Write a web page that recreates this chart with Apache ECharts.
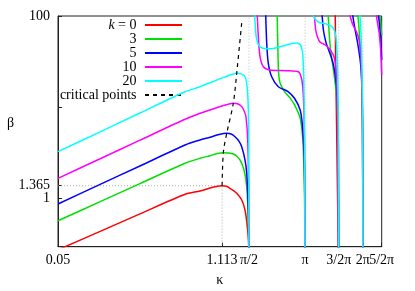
<!DOCTYPE html>
<html><head><meta charset="utf-8">
<script src="https://cdn.jsdelivr.net/npm/echarts@6/dist/echarts.min.js"></script>
<style>html,body{margin:0;padding:0;background:#fff}#c{width:415px;height:291px}</style>
</head><body><div id="c"></div>
<script>
// ---- axis ticks ----
const xTickValues = [0.05, 1.113, Math.PI / 2, Math.PI, 1.5 * Math.PI, 2 * Math.PI, 2.5 * Math.PI];
const xTickLabels = ['0.05', '1.113', 'π/2', 'π', '3/2π', '2π', '5/2π'];
const yTickValues = [1, 1.365, 10, 100];
const yLabelValues = [1, 1.365, 100];
const gridLineKappa = [Math.PI / 2, Math.PI, 1.5 * Math.PI, 2 * Math.PI];
const xRange = [0.05, 2.5 * Math.PI];
const yRange = [0.2917, 100];

// ---- series (branches of [kappa, beta]) ----
const seriesNames = ['k = 0', '3', '5', '10', '20'];
const k0 = [
  [[0.05,0.27],[0.167,0.430],[0.345,0.669],[0.676,1.098],[0.830,1.194],[0.949,1.288],[1.014,1.330],[1.113,1.365],[1.175,1.345],[1.233,1.278],[1.290,1.205],[1.344,1.126],[1.433,0.951],[1.494,0.738],[1.538,0.484],[1.566,0.291],[1.5705,0.1]],
  [[4.518,110],[4.540,32.9],[4.572,11.9],[4.610,3.37],[4.655,0.738],[4.712,0.1]]
];
const k3 = [
  [[0.05,0.563],[0.167,0.911],[0.345,1.44],[0.676,2.41],[0.830,2.73],[0.949,2.92],[1.045,3.08],[1.131,3.15],[1.215,3.12],[1.287,3.04],[1.350,2.86],[1.402,2.62],[1.476,2.03],[1.527,1.33],[1.552,0.684],[1.566,0.346],[1.5705,0.1]],
  [[2.229,120],[2.250,50.0],[2.270,25.0],[2.313,18.5],[2.460,14.5],[2.615,12.6],[2.768,10.5],[2.959,7.57],[3.058,4.34],[3.096,2.03],[3.122,0.951],[3.1416,0.1]],
  [[4.149,110],[4.178,79.6],[4.224,54.5],[4.316,36.3],[4.474,21.4],[4.600,12.9],[4.666,6.34],[4.712,0.1]],
  [[5.868,110],[5.939,95.1],[6.031,61.8],[6.133,34.5],[6.212,16.2],[6.257,5.59],[6.283,0.1]],
  [[7.655,110],[7.746,85.9],[7.854,61.8]]
];
const k5 = [
  [[0.05,0.859],[0.167,1.41],[0.345,2.25],[0.676,3.82],[0.830,4.34],[0.949,4.65],[1.070,4.98],[1.182,5.14],[1.260,5.02],[1.315,4.72],[1.380,4.25],[1.433,3.66],[1.494,2.62],[1.527,1.87],[1.552,0.951],[1.566,0.484],[1.5705,0.1]],
  [[1.933,120],[1.962,50.1],[2.001,30.2],[2.087,21.5],[2.265,16.7],[2.561,14.7],[2.768,12.4],[2.959,9.27],[3.035,6.62],[3.084,4.02],[3.122,2.21],[3.1416,0.1]],
  [[3.850,110],[3.920,70.2],[4.050,50.5],[4.214,40.2],[4.385,31.2],[4.491,24.3],[4.583,17.0],[4.655,9.27],[4.694,3.37],[4.712,0.1]],
  [[5.528,110],[5.594,95.1],[5.730,70.2],[5.903,50.5],[6.066,34.5],[6.168,24.3],[6.227,15.4],[6.264,5.59],[6.283,0.1]],
  [[7.520,110],[7.655,79.6],[7.792,48.0],[7.854,32.9]]
];
const k10 = [
  [[0.05,1.646],[0.167,2.70],[0.345,4.32],[0.676,7.33],[0.830,8.53],[0.949,9.27],[1.120,10.3],[1.287,11.0],[1.370,10.8],[1.433,10.1],[1.480,9.0],[1.513,7.82],[1.546,4.34],[1.566,1.224],[1.5695,0.346],[1.5705,0.1]],
  [[1.738,120],[1.767,59.2],[1.805,35.7],[1.881,27.7],[2.044,25.5],[2.511,25.1],[2.894,24.4],[3.020,19.8],[3.084,11.9],[3.122,3.37],[3.1416,0.1]],
  [[3.509,105],[3.573,70.2],[3.647,59.2],[3.759,51.8],[4.050,47.4],[4.301,41.2],[4.474,34.5],[4.566,23.6],[4.627,13.5],[4.666,5.59],[4.712,0.1]],
  [[5.334,110],[5.430,95.1],[5.582,79.6],[5.798,68.4],[5.974,57.3],[6.081,44.5],[6.168,26.8],[6.235,9.27],[6.272,1.58],[6.283,0.1]],
  [[7.343,110],[7.457,85.9],[7.609,66.7],[7.746,44.5],[7.854,22.5]]
];
const k20 = [
  [[0.05,3.23],[0.167,5.33],[0.345,8.59],[0.676,14.7],[0.830,16.7],[0.949,18.5],[1.150,21.3],[1.344,23.5],[1.430,23.0],[1.494,21.5],[1.527,18.2],[1.552,11.9],[1.566,4.34],[1.5705,0.1]],
  [[1.68,120],[1.716,61.8],[1.760,49.2],[1.850,44.5],[2.044,43.7],[2.313,46.0],[2.615,49.2],[2.818,50.5],[2.970,48.0],[3.046,40.2],[3.084,24.3],[3.111,9.27],[3.130,1.58],[3.1416,0.1]],
  [[3.413,110],[3.560,91.5],[3.736,84.9],[4.050,81.7],[4.368,75.7],[4.501,66.7],[4.583,51.8],[4.649,25.5],[4.688,6.34],[4.712,0.1]],
  [[6.046,110],[6.104,85.9],[6.168,50.5],[6.220,25.5],[6.257,9.27],[6.280,0.951],[6.283,0.1]]
];
const criticalPoints = [[1.113,1.365],[1.131,3.15],[1.182,5.14],[1.287,11.0],[1.344,23.5],[1.433,84.4]];
const criticalMarker = [1.113, 1.365];

// ---- styles ----
const colors = ['#ff0000', '#00e000', '#0000ff', '#ff00ff', '#00ffff'];
const FONT = '"Liberation Serif", "DejaVu Serif", serif';

// axis transforms (the reference uses a stretched-log kappa axis and a log beta axis)
const XC = 0.135;
const xt = k => Math.log(k + XC);
const yt = b => Math.log10(b);
const toXY = p => [xt(p[0]), yt(p[1])];

const allK = [k0, k3, k5, k10, k20];
const series = [];

gridLineKappa.forEach(k => {
  series.push({ type: 'line', silent: true, symbol: 'none', z: 1,
    data: [[xt(k), yt(yRange[0])], [xt(k), yt(yRange[1])]],
    lineStyle: { color: '#b0b0b0', width: 0.8, type: [1, 2] } });
});
series.push({ type: 'line', silent: true, symbol: 'none', z: 1,
  data: [[xt(xRange[0]), yt(criticalMarker[1])], [xt(criticalMarker[0]), yt(criticalMarker[1])], [xt(criticalMarker[0]), yt(yRange[0])]],
  lineStyle: { color: '#999', width: 0.8, type: [1, 2] } });

allK.forEach((branches, i) => {
  branches.forEach(br => {
    series.push({ type: 'line', name: seriesNames[i], symbol: 'none', z: 3 + i,
      smooth: 0.25, clip: true,
      data: br.map(toXY),
      color: colors[i],
      lineStyle: { color: colors[i], width: 1.5 } });
  });
});
series.push({ type: 'line', name: 'critical points', symbol: 'none', z: 10,
  smooth: 0.3, data: criticalPoints.map(toXY), color: '#000',
  lineStyle: { color: '#000', width: 1.2, type: [4, 4] } });

const xTickPos = xTickValues.map(xt);
const yTickPos = yTickValues.map(yt);
// labels that would touch their neighbours go on a second, overlaid axis
const xLabelsA = xTickPos.filter((p, i) => i !== 5);
const xLabelsB = [xTickPos[5]];
const yLabelsA = [yt(1), yt(100)];
const yLabelsB = [yt(1.365)];

const xFmt = v => { let best = 0; xTickPos.forEach((p, i) => { if (Math.abs(p - v) < Math.abs(xTickPos[best] - v)) best = i; }); return xTickLabels[best]; };
const yFmt = v => { let best = 0; yLabelValues.forEach((b, i) => { if (Math.abs(yt(b) - v) < Math.abs(yt(yLabelValues[best]) - v)) best = i; }); return String(yLabelValues[best]); };
const labelStyle = { fontFamily: FONT, fontSize: 14, color: '#000', hideOverlap: false, showMinLabel: true, showMaxLabel: true };

const chart = echarts.init(document.getElementById('c'), null, { renderer: 'canvas' });
chart.setOption({
  animation: false,
  backgroundColor: '#fff',
  textStyle: { fontFamily: FONT },
  grid: { left: 58, right: 33.3, top: 16, bottom: 44.3, show: true, borderColor: '#222', borderWidth: 1, containLabel: false, outerBoundsMode: 'none' },
  legend: {
    data: [...seriesNames, 'critical points'],
    orient: 'vertical', align: 'right', right: 232, top: 18, padding: 0,
    itemWidth: 37, itemHeight: 14, itemGap: 0,
    itemStyle: { opacity: 0 },
    formatter: n => (n === 'k = 0' ? '{i|k} = 0 ' : n + ' '),
    textStyle: { fontFamily: FONT, fontSize: 14, color: '#000',
      rich: { i: { fontFamily: FONT, fontSize: 14, fontStyle: 'italic', color: '#000' } } }
  },
  xAxis: [{
    type: 'value', min: xt(xRange[0]), max: xt(xRange[1]), position: 'bottom',
    name: 'κ', nameLocation: 'middle', nameGap: 27,
    nameTextStyle: { fontFamily: FONT, fontSize: 14, color: '#000' },
    axisLine: { show: true, onZero: false, lineStyle: { color: '#222' } },
    axisTick: { show: true, inside: true, length: 4, customValues: xTickPos, lineStyle: { color: '#222' } },
    axisLabel: Object.assign({ customValues: xLabelsA, margin: 7, formatter: xFmt }, labelStyle),
    splitLine: { show: false }
  }, {
    type: 'value', min: xt(xRange[0]), max: xt(xRange[1]), position: 'bottom',
    axisLine: { show: false, onZero: false }, axisTick: { show: false }, splitLine: { show: false },
    axisLabel: Object.assign({ customValues: xLabelsB, margin: 7, formatter: xFmt }, labelStyle)
  }],
  yAxis: [{
    type: 'value', min: yt(yRange[0]), max: yt(yRange[1]), position: 'left',
    axisLine: { show: true, onZero: false, lineStyle: { color: '#222' } },
    axisTick: { show: true, inside: true, length: 4, customValues: yTickPos, lineStyle: { color: '#222' } },
    axisLabel: Object.assign({ customValues: yLabelsA, margin: 8, formatter: yFmt }, labelStyle),
    splitLine: { show: false }
  }, {
    type: 'value', min: yt(yRange[0]), max: yt(yRange[1]), position: 'left',
    axisLine: { show: false, onZero: false }, axisTick: { show: false }, splitLine: { show: false },
    axisLabel: Object.assign({ customValues: yLabelsB, margin: 8, formatter: yFmt }, labelStyle)
  }],
  graphic: [{ type: 'text', left: 7, top: 116, style: { text: 'β', font: '14px ' + FONT, fill: '#000' } }],
  series
});
</script></body></html>
